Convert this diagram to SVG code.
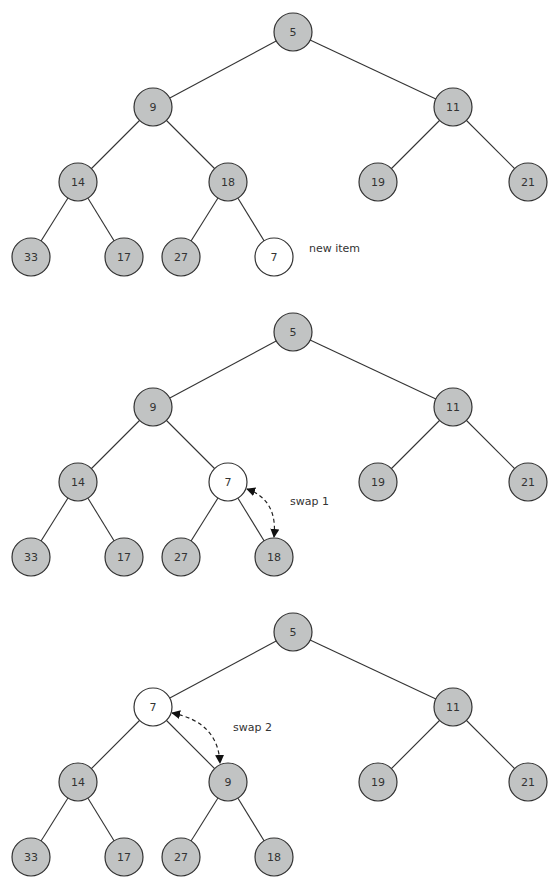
<svg xmlns="http://www.w3.org/2000/svg" width="559" height="887" viewBox="0 0 559 887">
<style>
.n{fill:#c1c3c3;stroke:#333;stroke-width:1.2}
.w{fill:#fff;stroke:#333;stroke-width:1.2}
.e{stroke:#333;stroke-width:1.1;fill:none}
.s{stroke:#222;stroke-width:1.2;fill:none;stroke-dasharray:4 3}
text{font-family:"DejaVu Sans","Liberation Sans",sans-serif;font-size:11px;fill:#333}
.t{text-anchor:middle;dominant-baseline:central}
</style>
<defs>
<marker id="ah" viewBox="0 0 10 10" refX="9" refY="5" markerWidth="9" markerHeight="9" markerUnits="userSpaceOnUse" orient="auto-start-reverse">
<path d="M0,0 L10,5 L0,10 z" fill="#111"/>
</marker>
</defs>
<rect width="559" height="887" fill="#fff"/>
<g id="connectors">
<!-- tree 1 -->
<line class="e" x1="293" y1="32" x2="153" y2="107"/>
<line class="e" x1="293" y1="32" x2="453" y2="107"/>
<line class="e" x1="153" y1="107" x2="78" y2="182"/>
<line class="e" x1="153" y1="107" x2="228" y2="182"/>
<line class="e" x1="453" y1="107" x2="378" y2="182"/>
<line class="e" x1="453" y1="107" x2="528" y2="182"/>
<line class="e" x1="78" y1="182" x2="31" y2="257"/>
<line class="e" x1="78" y1="182" x2="124" y2="257"/>
<line class="e" x1="228" y1="182" x2="181" y2="257"/>
<line class="e" x1="228" y1="182" x2="274" y2="257"/>
<!-- tree 2 -->
<line class="e" x1="293" y1="332" x2="153" y2="407"/>
<line class="e" x1="293" y1="332" x2="453" y2="407"/>
<line class="e" x1="153" y1="407" x2="78" y2="482"/>
<line class="e" x1="153" y1="407" x2="228" y2="482"/>
<line class="e" x1="453" y1="407" x2="378" y2="482"/>
<line class="e" x1="453" y1="407" x2="528" y2="482"/>
<line class="e" x1="78" y1="482" x2="31" y2="557"/>
<line class="e" x1="78" y1="482" x2="124" y2="557"/>
<line class="e" x1="228" y1="482" x2="181" y2="557"/>
<line class="e" x1="228" y1="482" x2="274" y2="557"/>
<!-- tree 3 -->
<line class="e" x1="293" y1="632" x2="153" y2="707"/>
<line class="e" x1="293" y1="632" x2="453" y2="707"/>
<line class="e" x1="153" y1="707" x2="78" y2="782"/>
<line class="e" x1="153" y1="707" x2="228" y2="782"/>
<line class="e" x1="453" y1="707" x2="378" y2="782"/>
<line class="e" x1="453" y1="707" x2="528" y2="782"/>
<line class="e" x1="78" y1="782" x2="31" y2="857"/>
<line class="e" x1="78" y1="782" x2="124" y2="857"/>
<line class="e" x1="228" y1="782" x2="181" y2="857"/>
<line class="e" x1="228" y1="782" x2="274" y2="857"/>
<!-- swaps -->
<path class="s" d="M247,489 Q278,500 274,537" marker-start="url(#ah)" marker-end="url(#ah)"/>
<path class="s" d="M172,713 Q218,722 220,763" marker-start="url(#ah)" marker-end="url(#ah)"/>
</g>
<!-- tree 1 nodes -->
<g id="t1-5"><circle class="n" cx="293" cy="32" r="19"/><text class="t" x="293" y="32">5</text></g>
<g id="t1-9"><circle class="n" cx="153" cy="107" r="19"/><text class="t" x="153" y="107">9</text></g>
<g id="t1-11"><circle class="n" cx="453" cy="107" r="19"/><text class="t" x="453" y="107">11</text></g>
<g id="t1-14"><circle class="n" cx="78" cy="182" r="19"/><text class="t" x="78" y="182">14</text></g>
<g id="t1-18"><circle class="n" cx="228" cy="182" r="19"/><text class="t" x="228" y="182">18</text></g>
<g id="t1-19"><circle class="n" cx="378" cy="182" r="19"/><text class="t" x="378" y="182">19</text></g>
<g id="t1-21"><circle class="n" cx="528" cy="182" r="19"/><text class="t" x="528" y="182">21</text></g>
<g id="t1-33"><circle class="n" cx="31" cy="257" r="19"/><text class="t" x="31" y="257">33</text></g>
<g id="t1-17"><circle class="n" cx="124" cy="257" r="19"/><text class="t" x="124" y="257">17</text></g>
<g id="t1-27"><circle class="n" cx="181" cy="257" r="19"/><text class="t" x="181" y="257">27</text></g>
<g id="t1-7"><circle class="w" cx="274" cy="257" r="19"/><text class="t" x="274" y="257">7</text></g>
<text x="309" y="252">new item</text>
<!-- tree 2 nodes -->
<g id="t2-5"><circle class="n" cx="293" cy="332" r="19"/><text class="t" x="293" y="332">5</text></g>
<g id="t2-9"><circle class="n" cx="153" cy="407" r="19"/><text class="t" x="153" y="407">9</text></g>
<g id="t2-11"><circle class="n" cx="453" cy="407" r="19"/><text class="t" x="453" y="407">11</text></g>
<g id="t2-14"><circle class="n" cx="78" cy="482" r="19"/><text class="t" x="78" y="482">14</text></g>
<g id="t2-7"><circle class="w" cx="228" cy="482" r="19"/><text class="t" x="228" y="482">7</text></g>
<g id="t2-19"><circle class="n" cx="378" cy="482" r="19"/><text class="t" x="378" y="482">19</text></g>
<g id="t2-21"><circle class="n" cx="528" cy="482" r="19"/><text class="t" x="528" y="482">21</text></g>
<g id="t2-33"><circle class="n" cx="31" cy="557" r="19"/><text class="t" x="31" y="557">33</text></g>
<g id="t2-17"><circle class="n" cx="124" cy="557" r="19"/><text class="t" x="124" y="557">17</text></g>
<g id="t2-27"><circle class="n" cx="181" cy="557" r="19"/><text class="t" x="181" y="557">27</text></g>
<g id="t2-18"><circle class="n" cx="274" cy="557" r="19"/><text class="t" x="274" y="557">18</text></g>
<text x="290" y="505">swap 1</text>
<!-- tree 3 nodes -->
<g id="t3-5"><circle class="n" cx="293" cy="632" r="19"/><text class="t" x="293" y="632">5</text></g>
<g id="t3-7"><circle class="w" cx="153" cy="707" r="19"/><text class="t" x="153" y="707">7</text></g>
<g id="t3-11"><circle class="n" cx="453" cy="707" r="19"/><text class="t" x="453" y="707">11</text></g>
<g id="t3-14"><circle class="n" cx="78" cy="782" r="19"/><text class="t" x="78" y="782">14</text></g>
<g id="t3-9"><circle class="n" cx="228" cy="782" r="19"/><text class="t" x="228" y="782">9</text></g>
<g id="t3-19"><circle class="n" cx="378" cy="782" r="19"/><text class="t" x="378" y="782">19</text></g>
<g id="t3-21"><circle class="n" cx="528" cy="782" r="19"/><text class="t" x="528" y="782">21</text></g>
<g id="t3-33"><circle class="n" cx="31" cy="857" r="19"/><text class="t" x="31" y="857">33</text></g>
<g id="t3-17"><circle class="n" cx="124" cy="857" r="19"/><text class="t" x="124" y="857">17</text></g>
<g id="t3-27"><circle class="n" cx="181" cy="857" r="19"/><text class="t" x="181" y="857">27</text></g>
<g id="t3-18"><circle class="n" cx="274" cy="857" r="19"/><text class="t" x="274" y="857">18</text></g>
<text x="233" y="731">swap 2</text>
</svg>
